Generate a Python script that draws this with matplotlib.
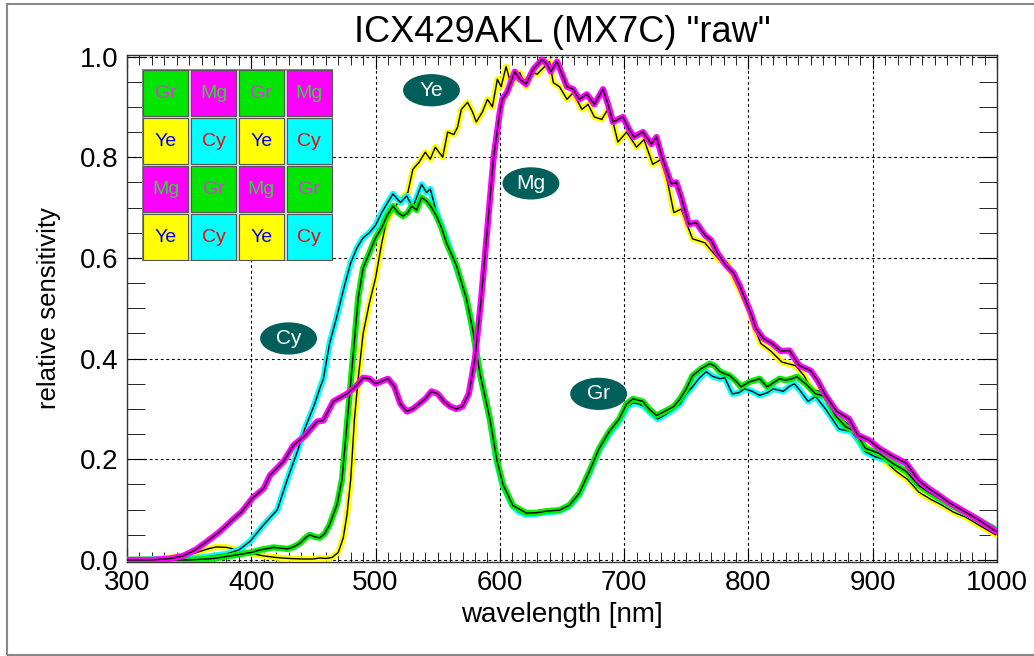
import numpy as np
import matplotlib
matplotlib.use("Agg")
import matplotlib.pyplot as plt
from matplotlib.patches import Ellipse, Rectangle
from matplotlib.ticker import MultipleLocator

plt.rcParams['font.family'] = ['Liberation Sans', 'DejaVu Sans']

# Mg (magenta) curve
mg_wl = [300, 320, 335, 345, 355, 365, 375, 385, 392, 401, 410, 415, 426, 434, 443, 453, 458, 466, 477, 485,
         490, 495, 500, 505, 510, 515, 520, 525, 530, 535, 540, 545, 550, 555, 560, 565, 570, 575, 580, 585,
         590, 595, 600, 602, 606, 612, 616, 621, 627, 634, 638, 641, 646, 650, 654, 659, 664, 670, 676, 683,
         687, 691, 699, 704, 708, 715, 722, 726, 731, 738, 742, 746, 752, 758, 765, 770, 775, 782, 788, 793,
         797, 802, 806, 812, 819, 826, 833, 841, 850, 856, 862, 871, 881, 888, 897, 905, 916, 927, 937, 945,
         953, 962, 972, 985, 999]
mg_val = [0.0, 0.0, 0.003, 0.008, 0.02, 0.038, 0.057, 0.08, 0.095, 0.123, 0.142, 0.168, 0.196, 0.228, 0.246,
          0.275, 0.277, 0.315, 0.33, 0.347, 0.362, 0.36, 0.35, 0.355, 0.36, 0.345, 0.31, 0.295, 0.30, 0.31,
          0.32, 0.335, 0.33, 0.315, 0.305, 0.30, 0.305, 0.33, 0.40, 0.52, 0.66, 0.80, 0.89, 0.915, 0.93, 0.97,
          0.955, 0.945, 0.975, 0.994, 0.985, 0.97, 0.99, 0.965, 0.94, 0.935, 0.915, 0.925, 0.905, 0.935, 0.905,
          0.87, 0.88, 0.855, 0.84, 0.85, 0.826, 0.84, 0.796, 0.747, 0.75, 0.72, 0.667, 0.67, 0.645, 0.635, 0.61,
          0.585, 0.57, 0.545, 0.52, 0.49, 0.46, 0.44, 0.43, 0.415, 0.416, 0.386, 0.376, 0.355, 0.327, 0.295,
          0.28, 0.248, 0.238, 0.222, 0.206, 0.192, 0.158, 0.142, 0.129, 0.113, 0.099, 0.08, 0.057]

# Ye (yellow) curve
ye_wl = [300, 330, 345, 355, 365, 372, 380, 390, 400, 410, 420, 430, 440, 450, 455, 460, 465, 470, 474, 477,
         480, 483, 486, 490, 495, 500, 505, 509, 514, 520, 526, 530, 535, 540, 544, 548, 554, 558, 563, 566,
         569, 574, 578, 581, 586, 590, 594, 598, 601, 605, 609, 616, 621, 626, 630, 634, 640, 643, 648, 654,
         659, 666, 671, 676, 682, 688, 695, 702, 710, 716, 723, 730, 735, 740, 746, 750, 755, 760, 765, 770,
         777, 783, 790, 795, 800, 805, 810, 818, 827, 838, 845, 851, 859, 865, 872, 880, 890, 900, 910, 919,
         928, 937, 947, 955, 965, 975, 985, 999]
ye_val = [0.0, 0.003, 0.008, 0.014, 0.022, 0.026, 0.025, 0.02, 0.013, 0.008, 0.005, 0.003, 0.002, 0.002, 0.004,
          0.003, 0.005, 0.015, 0.044, 0.09, 0.16, 0.28, 0.36, 0.45, 0.51, 0.56, 0.63, 0.675, 0.695, 0.717, 0.73,
          0.776, 0.79, 0.81, 0.796, 0.82, 0.80, 0.85, 0.845, 0.86, 0.895, 0.909, 0.89, 0.87, 0.89, 0.915, 0.90,
          0.955, 0.94, 0.98, 0.945, 0.968, 0.94, 0.968, 0.965, 0.975, 0.99, 0.948, 0.94, 0.915, 0.928, 0.895,
          0.905, 0.88, 0.875, 0.9, 0.83, 0.85, 0.82, 0.835, 0.786, 0.796, 0.75, 0.69, 0.697, 0.67, 0.638, 0.634,
          0.63, 0.615, 0.595, 0.59, 0.55, 0.525, 0.50, 0.46, 0.43, 0.415, 0.393, 0.386, 0.365, 0.337, 0.335,
          0.31, 0.285, 0.27, 0.236, 0.212, 0.196, 0.176, 0.16, 0.135, 0.12, 0.11, 0.095, 0.085, 0.07, 0.05]

# Cy (cyan) curve
cy_wl = [300, 340, 360, 380, 390, 399, 410, 421, 429, 437, 443, 451, 455, 458, 463, 469, 475, 480, 485, 490,
         495, 500, 505, 509, 514, 520, 525, 530, 533, 537, 541, 544, 549, 553, 557, 562, 567, 573, 578, 584,
         592, 597, 602, 610, 615, 621, 630, 638, 648, 656, 664, 672, 680, 688, 696, 703, 707, 712, 716, 722,
         727, 734, 740, 745, 750, 755, 760, 766, 771, 777, 781, 787, 792, 797, 803, 809, 815, 820, 828, 833,
         837, 842, 848, 854, 862, 873, 883, 889, 894, 902, 911, 918, 927, 937, 945, 953, 962, 972, 985, 999]
cy_val = [0.0, 0.002, 0.005, 0.012, 0.02, 0.037, 0.07, 0.10, 0.16, 0.215, 0.26, 0.31, 0.34, 0.36, 0.43, 0.485,
          0.545, 0.59, 0.62, 0.64, 0.65, 0.665, 0.69, 0.707, 0.727, 0.71, 0.723, 0.70, 0.72, 0.746, 0.73, 0.737,
          0.69, 0.665, 0.638, 0.604, 0.565, 0.52, 0.46, 0.37, 0.28, 0.2, 0.15, 0.108, 0.096, 0.09, 0.092, 0.095,
          0.097, 0.107, 0.13, 0.172, 0.218, 0.25, 0.275, 0.305, 0.312, 0.31, 0.305, 0.29, 0.28, 0.29, 0.30, 0.31,
          0.33, 0.344, 0.36, 0.374, 0.365, 0.36, 0.362, 0.33, 0.332, 0.34, 0.335, 0.327, 0.332, 0.34, 0.335,
          0.345, 0.35, 0.335, 0.315, 0.325, 0.30, 0.26, 0.255, 0.235, 0.215, 0.205, 0.198, 0.19, 0.176, 0.15,
          0.135, 0.122, 0.11, 0.097, 0.08, 0.06]

# Gr (green) curve
gr_wl = [300, 350, 370, 388, 400, 407, 418, 429, 434, 439, 444, 447, 451, 455, 459, 463, 469, 473, 477, 481,
         486, 490, 495, 500, 505, 509, 514, 518, 522, 526, 529, 533, 537, 541, 545, 549, 553, 557, 565, 573,
         578, 584, 592, 597.5, 602.5, 610.5, 621.5, 630, 637.5, 648, 656, 664, 672, 680, 688, 696, 702, 707,
         715, 720, 726, 734, 740, 745, 750, 755, 762, 769, 773, 777, 785, 790, 794, 801, 809, 815, 820, 825,
         830, 835, 839, 846, 854, 862, 870, 878, 886, 894, 905, 916, 927, 937, 945, 953, 962, 972, 985, 999]
gr_val = [0.0, 0.0, 0.003, 0.01, 0.015, 0.02, 0.025, 0.022, 0.026, 0.033, 0.045, 0.05, 0.046, 0.044, 0.052,
          0.07, 0.11, 0.16, 0.27, 0.38, 0.52, 0.58, 0.61, 0.64, 0.66, 0.683, 0.703, 0.69, 0.683, 0.69, 0.703,
          0.695, 0.72, 0.713, 0.70, 0.683, 0.66, 0.63, 0.585, 0.52, 0.46, 0.37, 0.28, 0.2, 0.15, 0.108, 0.093,
          0.094, 0.097, 0.099, 0.109, 0.133, 0.176, 0.222, 0.255, 0.28, 0.31, 0.32, 0.315, 0.30, 0.287, 0.297,
          0.305, 0.32, 0.34, 0.366, 0.38, 0.39, 0.385, 0.374, 0.366, 0.355, 0.344, 0.354, 0.36, 0.344, 0.352,
          0.36, 0.357, 0.36, 0.364, 0.35, 0.33, 0.325, 0.287, 0.265, 0.255, 0.222, 0.212, 0.192, 0.176, 0.148,
          0.135, 0.123, 0.11, 0.097, 0.08, 0.06]

# label bubbles: text, x [nm], y
bubble_names = ['Ye', 'Mg', 'Cy', 'Gr']
bubble_x = [545, 625, 430, 679.5]
bubble_y = [0.933, 0.748, 0.440, 0.330]

# colour filter mosaic
mosaic = [['Gr', 'Mg', 'Gr', 'Mg'],
          ['Ye', 'Cy', 'Ye', 'Cy'],
          ['Mg', 'Gr', 'Mg', 'Gr'],
          ['Ye', 'Cy', 'Ye', 'Cy']]
fill = {'Gr': '#00e600', 'Mg': '#ff00ff', 'Ye': '#ffff00', 'Cy': '#00ffff'}
ink = {'Gr': '#e830e8', 'Mg': '#30d830', 'Ye': '#0000ff', 'Cy': '#ff0000'}

fig = plt.figure(figsize=(10.34, 6.56), dpi=100)
fig.patches.append(Rectangle((7 / 1034, 1 / 656), 1.0, 651 / 656, transform=fig.transFigure,
                             fill=False, edgecolor='#888888', lw=1.5))

ax = fig.add_axes([127 / 1034, 1 - 562 / 656, 870 / 1034, 507 / 656])

curves = [(ye_wl, ye_val, '#ffff00'), (cy_wl, cy_val, '#00ffff'),
          (gr_wl, gr_val, '#00ee00'), (mg_wl, mg_val, '#ff00ff')]
for wl, val, col in curves:
    ax.plot(wl, val, color=col, lw=4.5, solid_capstyle='round', solid_joinstyle='round', zorder=3)
    ax.plot(wl, val, color='black', lw=1.0, zorder=3)

ax.set_xlim(300, 1000)
ax.set_ylim(-0.004, 1.003)
ax.xaxis.set_major_locator(MultipleLocator(100))
ax.xaxis.set_minor_locator(MultipleLocator(10))
ax.yaxis.set_major_locator(MultipleLocator(0.2))
ax.yaxis.set_minor_locator(MultipleLocator(0.05))
ax.yaxis.set_major_formatter(matplotlib.ticker.FormatStrFormatter('%.1f'))
ax.tick_params(which='both', direction='in', top=True, right=True, labelsize=20)
ax.tick_params(axis='x', which='major', length=10, pad=6)
ax.tick_params(axis='x', which='minor', length=7)
ax.tick_params(axis='y', which='major', length=14, pad=6)
ax.tick_params(axis='y', which='minor', length=13)
ax.grid(True, which='major', color='black', linestyle=(0, (2.5, 2.5)), lw=0.8)
ax.set_axisbelow(True)
for s in ax.spines.values():
    s.set_linewidth(1.0)
    s.set_color('#333333')

ax.set_xlabel('wavelength [nm]', fontsize=20, labelpad=4)
ax.set_ylabel('relative sensitivity', fontsize=18.5, labelpad=14)
fig.text(562 / 1034, 1 - 32 / 656, 'ICX429AKL (MX7C) "raw"', ha='center', va='center',
         fontsize=26, family=['Liberation Sans Narrow', 'Liberation Sans'])

for name, bx, by in zip(bubble_names, bubble_x, bubble_y):
    ax.add_patch(Ellipse((bx, by), 45.8, 0.064, facecolor='#005f5a', edgecolor='none', zorder=5))
    ax.text(bx, by, name, color='white', fontsize=15, ha='center', va='center', zorder=6)

# mosaic inset
mx = fig.add_axes([142 / 1034, 1 - 261 / 656, 191 / 1034, 192 / 656])
mx.set_xlim(0, 4)
mx.set_ylim(4, 0)
mx.axis('off')
mx.add_patch(Rectangle((0, 0), 4, 4, facecolor='#dddddd', edgecolor='#888888', lw=2, zorder=1))
for r, row in enumerate(mosaic):
    for c, name in enumerate(row):
        mx.add_patch(Rectangle((c + 0.03, r + 0.03), 0.94, 0.94, facecolor=fill[name],
                               edgecolor='#555555', lw=0.8, zorder=2))
        mx.text(c + 0.5, r + 0.5, name, color=ink[name], fontsize=14, ha='center', va='center', zorder=3)

fig.savefig('out.png', dpi=100)
